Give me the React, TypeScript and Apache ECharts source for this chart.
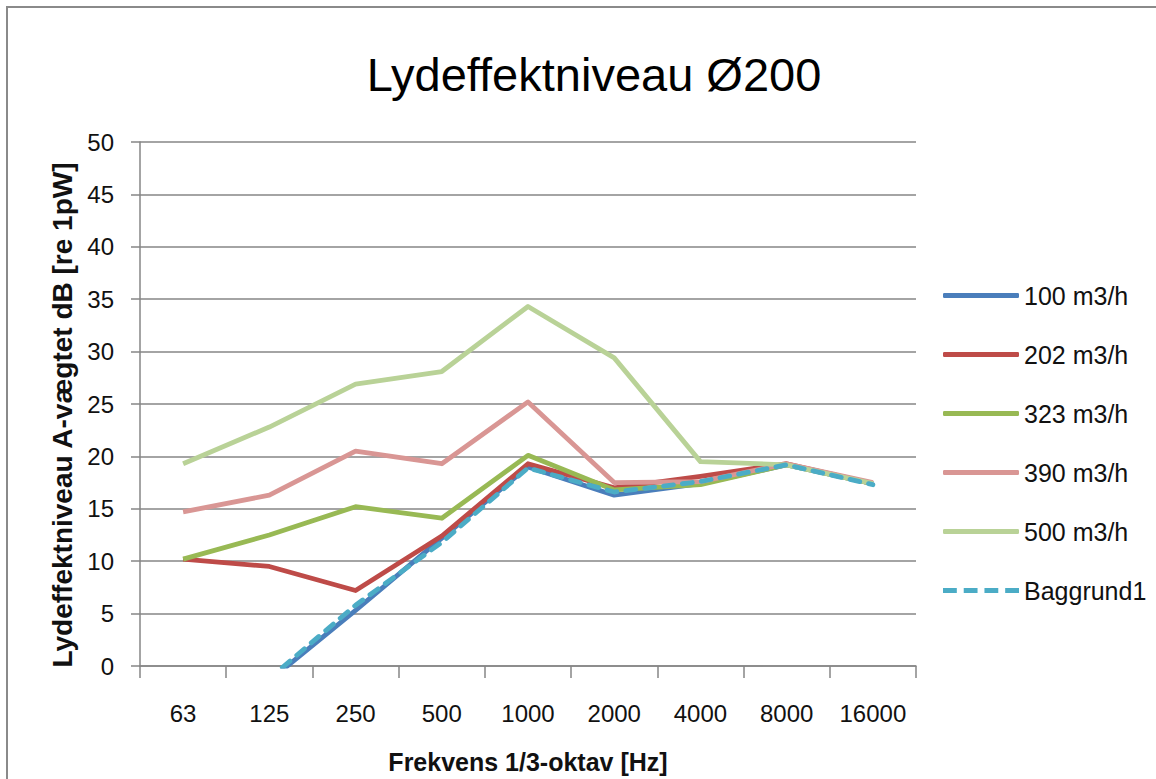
import React, { useEffect, useRef } from "react";
import * as echarts from "echarts";

const categories = ["63", "125", "250", "500", "1000", "2000", "4000", "8000", "16000"];
const s100 = [-9, -1.4, 5.3, 12.2, 19.0, 16.3, 17.4, 19.2, 17.4];
const s202 = [10.2, 9.5, 7.2, 12.4, 19.3, 17.0, 18.1, 19.3, 17.4];
const s323 = [10.2, 12.5, 15.2, 14.1, 20.1, 16.8, 17.3, 19.2, 17.4];
const s390 = [14.7, 16.3, 20.5, 19.3, 25.2, 17.5, 17.6, 19.3, 17.5];
const s500 = [19.3, 22.8, 26.9, 28.1, 34.3, 29.4, 19.5, 19.2, 17.4];
const baggrund = [-8.6, -1.2, 5.8, 11.8, 18.9, 16.6, 17.6, 19.2, 17.3];
const seriesNames = ["100 m3/h", "202 m3/h", "323 m3/h", "390 m3/h", "500 m3/h", "Baggrund1"];
const colors = ["#4A7EBB", "#BE4B48", "#98B954", "#D99694", "#B9D297", "#4BACC6"];

const FONT = "'Liberation Sans', Arial, sans-serif";
const DASH_ICON = "path://M0,0h14v5h-14z M21,0h14v5h-14z M42,0h14v5h-14z M63,0h14v5h-14z";

export default function App() {
  const ref = useRef<HTMLDivElement>(null);
  useEffect(() => {
    if (!ref.current) return;
    const chart = echarts.init(ref.current, null, { renderer: "svg" });
    const data = [s100, s202, s323, s390, s500, baggrund];
    chart.setOption({
      animation: false,
      backgroundColor: "#ffffff",
      title: {
        text: "Lydeffektniveau Ø200",
        left: 589,
        textAlign: "center",
        top: 46,
        textStyle: { fontFamily: FONT, fontSize: 47, fontWeight: "normal", color: "#000" },
      },
      graphic: [
        {
          type: "rect",
          shape: { x: 7, y: 7, width: 1300, height: 900 },
          style: { fill: "none", stroke: "#8a8a8a", lineWidth: 2 },
          silent: true,
        },
      ],
      grid: { left: 140, right: 240, top: 142, bottom: 110, containLabel: false },
      legend: {
        orient: "vertical",
        left: 938,
        top: 278,
        itemWidth: 76,
        itemHeight: 5,
        itemGap: 34,
        textStyle: { fontFamily: FONT, fontSize: 25, color: "#111" },
        data: seriesNames.map((n, i) => ({ name: n, icon: i === 5 ? DASH_ICON : "roundRect" })),
      },
      xAxis: {
        type: "category",
        data: categories,
        boundaryGap: true,
        axisLine: { lineStyle: { color: "#868686", width: 1.5 } },
        axisTick: { show: true, interval: 0, length: 12, lineStyle: { color: "#868686", width: 1.5 } },
        axisLabel: { interval: 0, fontFamily: FONT, fontSize: 24, color: "#111", margin: 35 },
        name: "Frekvens 1/3-oktav [Hz]",
        nameLocation: "middle",
        nameGap: 83,
        nameTextStyle: { fontFamily: FONT, fontSize: 25, fontWeight: "bold", color: "#111" },
      },
      yAxis: {
        type: "value",
        min: 0,
        max: 50,
        interval: 5,
        axisLine: { show: true, lineStyle: { color: "#868686", width: 1.5 } },
        axisTick: { show: true, length: 9, inside: false, lineStyle: { color: "#868686", width: 1.5 } },
        axisLabel: { fontFamily: FONT, fontSize: 24, color: "#111", margin: 26 },
        splitLine: { lineStyle: { color: "#868686", width: 1.5 } },
        name: "Lydeffektniveau A-vægtet dB [re 1pW]",
        nameLocation: "middle",
        nameGap: 64,
        nameTextStyle: { fontFamily: FONT, fontSize: 28, fontWeight: "bold", color: "#111", padding: [0, 22, 0, 0] },
      },
      series: data.map((d, i) => ({
        name: seriesNames[i],
        type: "line",
        data: d,
        symbol: "none",
        clip: true,
        color: colors[i],
        itemStyle: { color: colors[i] },
        lineStyle: {
          color: colors[i],
          width: 4.8,
          type: i === 5 ? [10, 9] : "solid",
          cap: i === 5 ? "round" : "butt",
          join: "round",
        },
      })),
    });
    return () => chart.dispose();
  }, []);
  return <div ref={ref} style={{ width: 1156, height: 779, position: "absolute", left: 0, top: 0 }} />;
}
